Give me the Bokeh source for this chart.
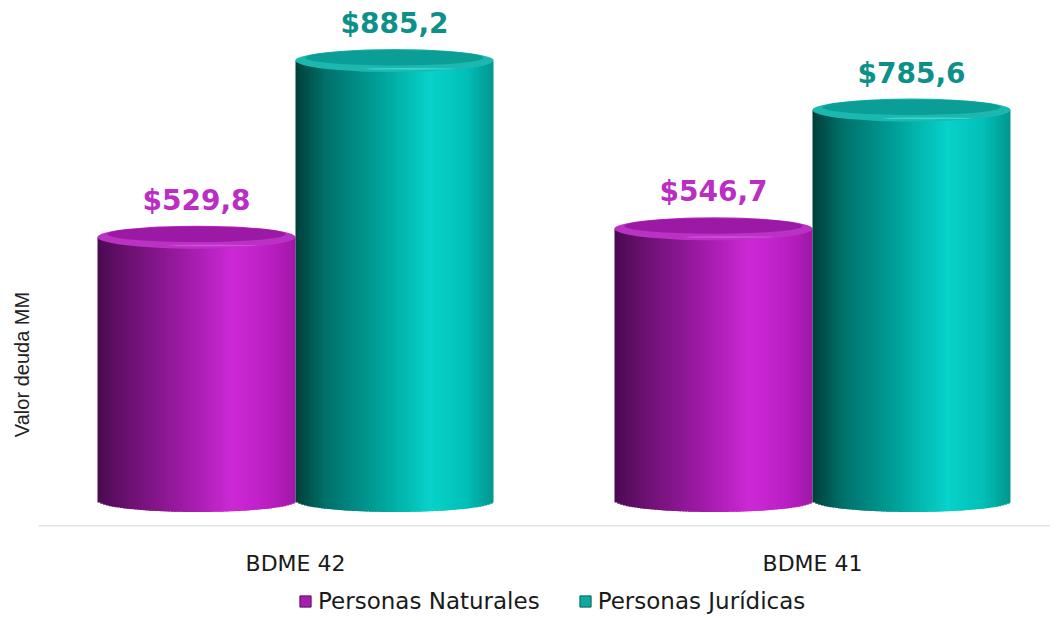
import numpy as np
from bokeh.plotting import figure
from bokeh.layouts import column
from bokeh.models import Range1d, FixedTicker, Legend, LegendItem, ColumnDataSource, Label
from bokeh.core.properties import value
from bokeh.embed import file_html
from bokeh.resources import INLINE

# ---------------- data ----------------
categories = ["BDME 42", "BDME 41"]
series_names = ["Personas Naturales", "Personas Jurídicas"]
naturales = [529.8, 546.7]
juridicas = [885.2, 785.6]
y_label = "Valor deuda MM"

# ---------------- styles ----------------
stops = {
    "nat": [(0.0, "#4A0A50"), (0.15, "#6A1170"), (0.45, "#A01BA8"), (0.68, "#CC29D5"), (0.86, "#BC1FC5"), (1.0, "#A018A8")],
    "jur": [(0.0, "#003F39"), (0.15, "#00706A"), (0.45, "#00A69E"), (0.68, "#08D2CA"), (0.86, "#02C0B8"), (1.0, "#01968E")],
}
rim = {"nat": "#BA32C4", "jur": "#1CB8AF"}
face = {"nat": "#9B19A4", "jur": "#0A9E96"}
hi = {"nat": "#F05AF6", "jur": "#45EEEA"}
lab_col = {"nat": "#BB2EC4", "jur": "#0E908A"}
leg_col = {"nat": "#A61FAE", "jur": "#12A79F"}
leg_edge = {"nat": "#5a0f60", "jur": "#056660"}


def hex2rgb(h):
    h = h.lstrip("#")
    return [int(h[i:i + 2], 16) for i in (0, 2, 4)]


def interp(st, t):
    for (t0, c0), (t1, c1) in zip(st[:-1], st[1:]):
        if t0 <= t <= t1:
            f = (t - t0) / (t1 - t0)
            a, b = hex2rgb(c0), hex2rgb(c1)
            return "#%02x%02x%02x" % tuple(int(round(a[i] + (b[i] - a[i]) * f)) for i in range(3))
    return st[-1][1]


W = 1050
pxu = 0.497          # px per value unit
b = 11.5 / pxu       # ellipse half height in value units
w = 0.383            # cylinder width (x units)
off = w / 2
n = 70

p = figure(width=W, height=582, x_range=Range1d(-295 / 517, (W - 295) / 517), y_range=Range1d(-26 / pxu, 500 / pxu),
           output_backend="svg", toolbar_location=None, y_axis_location=None,
           min_border_left=0, min_border_right=0, min_border_top=0, min_border_bottom=56)
p.grid.visible = False
p.outline_line_color = None
p.background_fill_color = "white"

for key, vals, sign in (("nat", naturales, -1), ("jur", juridicas, 1)):
    L, R, B, T, C = [], [], [], [], []
    for ci, v in enumerate(vals):
        xc = ci + sign * off
        for i in range(n):
            l = xc - off + i * w / n
            r = l + (w / n) * (1.7 if i < n - 1 else 1.0)
            xm = l + w / n / 2
            u = (xm - xc) / off
            L.append(l); R.append(r)
            B.append(-b * np.sqrt(max(0.0, 1 - u * u)))
            T.append(v)
            C.append(interp(stops[key], (i + 0.5) / n))
    src = ColumnDataSource(dict(left=L, right=R, bottom=B, top=T, color=C))
    p.quad(left="left", right="right", bottom="bottom", top="top", source=src,
           fill_color="color", line_color=None)
    xs = [ci + sign * off for ci in range(len(vals))]
    p.ellipse(x=xs, y=vals, width=w, height=2 * b, fill_color=rim[key], line_color=None)
    p.ellipse(x=xs, y=[v + 0.25 * b for v in vals], width=w * 0.9, height=1.35 * b,
              fill_color=face[key], line_color=None)
    p.ellipse(x=[x + 0.08 * w for x in xs], y=[v - 0.72 * b for v in vals], width=0.45 * w, height=0.14 * b,
              fill_color=hi[key], fill_alpha=0.6, line_color=None)
    labels = ["$" + f"{v:.1f}".replace(".", ",") for v in vals]
    p.text(x=xs, y=vals, text=labels, y_offset=-37, text_align="center", text_baseline="middle",
           text_font=value("DejaVu Sans"), text_font_style="bold", text_font_size="28px",
           text_color=lab_col[key])

# baseline
p.segment(x0=[(38 - 295) / 517], y0=[-25.5 / pxu], x1=[(W - 295) / 517], y1=[-25.5 / pxu],
          line_color="#D9D9D9", line_width=1.5)

# y label
p.add_layout(Label(x=(21 - 295) / 517, y=(500 - 364) / pxu, text=y_label, angle=np.pi / 2, text_align="center",
                   text_baseline="middle", text_font="Liberation Sans", text_font_size="20px",
                   text_color="#222222"))

ax = p.xaxis[0]
ax.ticker = FixedTicker(ticks=list(range(len(categories))))
ax.major_label_overrides = {i: c for i, c in enumerate(categories)}
ax.axis_line_color = None
ax.major_tick_line_color = None
ax.minor_tick_line_color = None
ax.major_tick_out = 0
ax.major_tick_in = 0
ax.major_label_standoff = 24
ax.major_label_text_font = "DejaVu Sans"
ax.major_label_text_font_size = "22px"
ax.major_label_text_color = "#1a1a1a"

# ---------------- legend strip ----------------
p2 = figure(width=W, height=34, x_range=Range1d(0, 1), y_range=Range1d(0, 1),
            output_backend="svg", toolbar_location=None, x_axis_location=None, y_axis_location=None,
            min_border=0)
p2.grid.visible = False
p2.outline_line_color = None
d1 = p2.quad(left=[5], right=[6], bottom=[5], top=[6], fill_color=leg_col["nat"], line_color=leg_edge["nat"])
d2 = p2.quad(left=[5], right=[6], bottom=[5], top=[6], fill_color=leg_col["jur"], line_color=leg_edge["jur"])
legend = Legend(items=[LegendItem(label=series_names[0], renderers=[d1]),
                       LegendItem(label=series_names[1], renderers=[d2])],
                orientation="horizontal", location=(298, 2))
legend.border_line_color = None
legend.background_fill_alpha = 0
legend.padding = 0
legend.margin = 0
legend.spacing = 38
legend.label_standoff = 6
legend.glyph_width = 14
legend.glyph_height = 14
legend.label_text_font = "DejaVu Sans"
legend.label_text_font_size = "23px"
legend.label_text_color = "#1a1a1a"
p2.add_layout(legend)

open("out.html", "w").write(file_html(column(p, p2, spacing=0), INLINE))
